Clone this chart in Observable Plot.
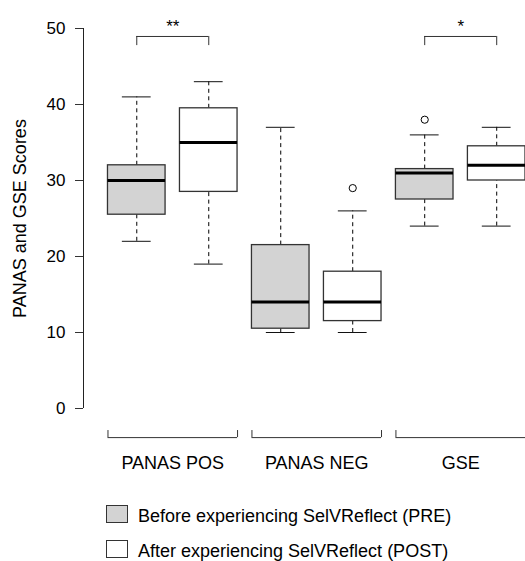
<!DOCTYPE html>
<html>
<head>
<meta charset="utf-8">
<script src="https://cdn.jsdelivr.net/npm/d3@7"></script>
<script src="https://cdn.jsdelivr.net/npm/@observablehq/plot@0.6"></script>
<style>
  body { margin: 0; background: white; font-family: "Liberation Sans", Arial, Helvetica, sans-serif; }
  #chart svg { display: block; }
  .legend { position: relative; height: 66px; overflow: hidden; }
  .row { position: absolute; left: 106px; display: flex; align-items: flex-start; font-size: 18px; color: #000; line-height: 22px; white-space: nowrap; }
  .sw { width: 20px; height: 16px; border: 1px solid #333; margin-right: 10px; box-sizing: content-box; }
</style>
</head>
<body>
<div id="chart"></div>
<div class="legend" id="legend"></div>
<script>
// ---- data ----
const groups = ["PANAS POS", "PANAS NEG", "GSE"];
const conditions = ["PRE", "POST"];
const legendLabels = ["Before experiencing SelVReflect (PRE)", "After experiencing SelVReflect (POST)"];
const lowerWhisker = [22, 19, 10, 10, 24, 24];
const q1 =           [25.5, 28.5, 10.5, 11.5, 27.5, 30];
const median =       [30, 35, 14, 14, 31, 32];
const q3 =           [32, 39.5, 21.5, 18, 31.5, 34.5];
const upperWhisker = [41, 43, 37, 26, 36, 37];
const outliers = [{box: 4, value: 29}, {box: 5, value: 38}]; // box position (1-based)
const yTicks = [0, 10, 20, 30, 40, 50];
const significance = [{from: 1, to: 2, label: "**"}, {from: 5, to: 6, label: "*"}];
const yTitle = "PANAS and GSE Scores";

// ---- derived tables ----
const fills = {PRE: "#d3d3d3", POST: "#ffffff"};
const boxes = median.map((m, i) => ({
  pos: i + 1,
  group: groups[Math.floor(i / 2)],
  condition: conditions[i % 2],
  lo: lowerWhisker[i], q1: q1[i], med: m, q3: q3[i], hi: upperWhisker[i]
}));
const groupSpans = groups.map((g, j) => ({group: g, start: 2 * j + 1, end: 2 * j + 2}));

const halfBox = 0.4, halfStaple = 0.2;
const xDomain = [0.26, 6.4];
const H = 495;

const chart = Plot.plot({
  width: 525,
  height: H,
  marginLeft: 83,
  marginRight: 0,
  marginTop: 12.8,
  marginBottom: H - 423.2,
  x: {domain: xDomain, axis: null},
  y: {domain: [-2, 52], axis: null},
  style: {fontFamily: "'Liberation Sans', Arial, Helvetica, sans-serif", fontSize: "18px", color: "#000", background: "white"},
  marks: [
    // y axis
    Plot.ruleX([xDomain[0]], {y1: yTicks[0], y2: yTicks[yTicks.length - 1], stroke: "#222", strokeWidth: 1}),
    Plot.axisY(yTicks, {anchor: "left", tickSize: 8, tickPadding: 10, fontSize: 17, stroke: "#333", label: null}),
    Plot.text([yTitle], {frameAnchor: "left", dx: -63, rotate: -90, textAnchor: "middle", fontSize: 18, fill: "#000"}),
    // whiskers
    Plot.ruleX(boxes, {x: "pos", y1: "q3", y2: "hi", stroke: "#000", strokeDasharray: "4,3.5"}),
    Plot.ruleX(boxes, {x: "pos", y1: "lo", y2: "q1", stroke: "#000", strokeDasharray: "4,3.5"}),
    // staples
    Plot.ruleY(boxes, {y: "hi", x1: d => d.pos - halfStaple, x2: d => d.pos + halfStaple, stroke: "#111"}),
    Plot.ruleY(boxes, {y: "lo", x1: d => d.pos - halfStaple, x2: d => d.pos + halfStaple, stroke: "#111"}),
    // boxes
    Plot.rect(boxes, {x1: d => d.pos - halfBox, x2: d => d.pos + halfBox, y1: "q1", y2: "q3",
      fill: d => fills[d.condition], stroke: "#333", strokeWidth: 1.3}),
    // medians
    Plot.ruleY(boxes, {y: "med", x1: d => d.pos - halfBox, x2: d => d.pos + halfBox, stroke: "#000", strokeWidth: 3}),
    // outliers
    Plot.dot(outliers, {x: "box", y: "value", r: 3.6, stroke: "#000", fill: "white", strokeWidth: 1}),
    // significance brackets
    Plot.ruleY(significance, {y: 48.95, x1: "from", x2: "to", stroke: "#333"}),
    Plot.ruleX(significance, {x: "from", y1: 47.75, y2: 48.95, stroke: "#333"}),
    Plot.ruleX(significance, {x: "to", y1: 47.75, y2: 48.95, stroke: "#333"}),
    Plot.text(significance, {x: d => (d.from + d.to) / 2, y: 50.3, text: "label", fontSize: 17, fill: "#000"}),
    // category brackets
    Plot.ruleY(groupSpans, {y: -3.83, x1: d => d.start - halfBox, x2: d => d.end + halfBox, stroke: "#333"}),
    Plot.ruleX(groupSpans, {x: d => d.start - halfBox, y1: -2.9, y2: -3.83, stroke: "#333"}),
    Plot.ruleX(groupSpans, {x: d => d.end + halfBox, y1: -2.9, y2: -3.83, stroke: "#333"}),
    Plot.text(groupSpans, {x: d => (d.start + d.end) / 2, y: -7.15, text: "group", fontSize: 18, fill: "#000"})
  ]
});
document.getElementById("chart").appendChild(chart);

// legend
const legend = document.getElementById("legend");
conditions.forEach((c, i) => {
  const row = document.createElement("div");
  row.className = "row";
  row.style.top = (10 + i * 35) + "px";
  const sw = document.createElement("div");
  sw.className = "sw";
  sw.style.background = fills[c];
  const t = document.createElement("span");
  t.textContent = legendLabels[i];
  row.appendChild(sw);
  row.appendChild(t);
  legend.appendChild(row);
});
</script>
</body>
</html>
